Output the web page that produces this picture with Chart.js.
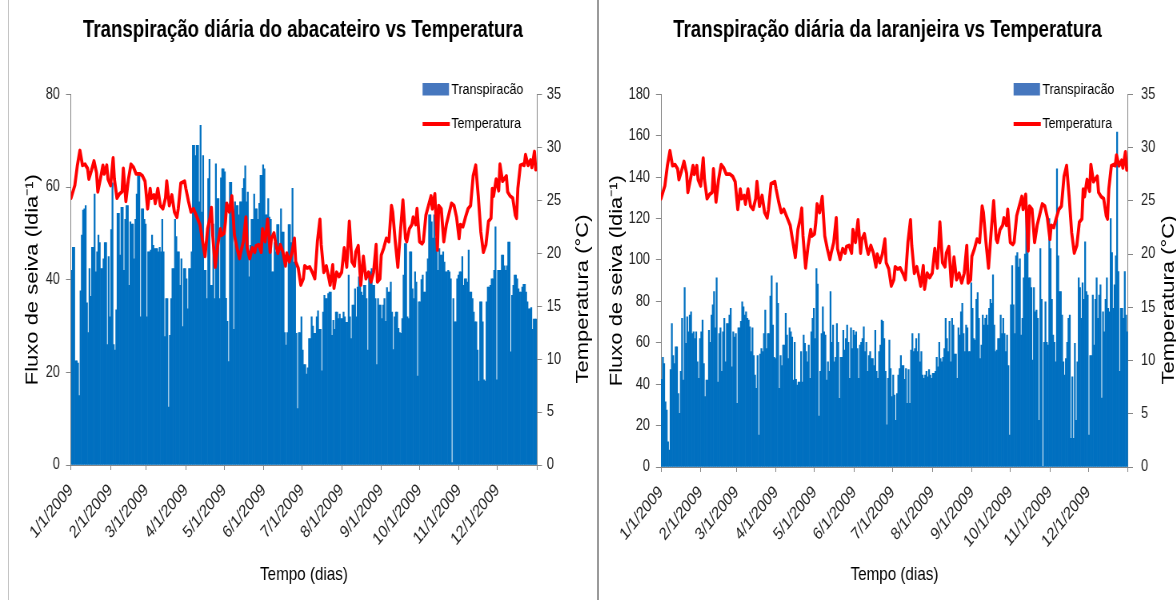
<!DOCTYPE html>
<html lang="pt">
<head>
<meta charset="utf-8">
<title>Transpiração diária vs Temperatura</title>
<script src="https://cdn.jsdelivr.net/npm/chart.js@4.4.1/dist/chart.umd.min.js"></script>
<style>
  html, body { margin:0; padding:0; background:#fff; width:1176px; height:600px; overflow:hidden; position:relative; }
  .wrap { position:absolute; top:0; width:748px; height:600px; transform:scaleX(0.8); transform-origin:0 0; }
  .wrap canvas { display:block; }
  .rule { position:absolute; top:0; height:600px; z-index:5; }
</style>
</head>
<body>
<div class="wrap" style="left:0"><canvas id="chartA" width="748" height="600" style="width:748px;height:600px"></canvas></div>
<div class="wrap" style="left:601px"><canvas id="chartB" width="748" height="600" style="width:748px;height:600px"></canvas></div>
<div class="rule" style="left:8px;width:1px;background:#c4c4c4"></div>
<div class="rule" style="left:597px;width:2px;background:#9a9a9a"></div>
<script>
// ---------- data ----------
const monthLabels = ['1/1/2009','2/1/2009','3/1/2009','4/1/2009','5/1/2009','6/1/2009',
                     '7/1/2009','8/1/2009','9/1/2009','10/1/2009','11/1/2009','12/1/2009'];
const yearEndLabel = '1/1/2010';

// daily sap flow, avocado tree (l/day), 1 Jan .. 31 Dec 2009
const abacateiroFluxo = [
42,47,47,22.5,22.5,22,15,37.6,49.6,55,
55.3,56,35,28.6,42.4,36.4,47,47,58.5,41.7,
46,49.6,48,42.4,42.4,44.5,48,48,26,45,
32,50.8,60.9,26,24.8,33.5,54.3,54.3,45.3,55.6,
55.6,42,53,56,56,38.8,52.5,52,52,44.5,
53,58.5,62.9,62.9,32,55.3,55.3,53,52,32,
46,46,46.4,49.6,47.4,46.7,46.7,46.7,46,47,
46,53,46,27.7,35.9,35.9,12.5,28,35.9,42.4,
42.4,53,49.3,46,46,38.8,44.5,29.9,42.4,42.4,
40.2,33.7,42.4,42.4,46,69,69,66.8,69,69,
56.8,73.3,54.6,66.8,42,42,35.9,61.8,66,38.8,
38.8,52,35.9,65,57.5,57.5,35.9,62,63.9,63.9,
63.3,36,31,22.3,61,61,55,29.3,56.8,56,
56,54,56.8,56.8,59.7,61.8,64.6,56.8,58.9,40.6,
47.4,53,53,58.5,55.3,55.3,53,56.5,62.5,62.5,
64.8,63.9,54,54,57.5,53.5,53,41.7,41.7,48,
46,51.9,51.9,46,55.3,50.3,50.3,28.6,25.9,28.6,
51.9,51.9,48,59.7,43.8,43.8,28.4,12.2,28.6,28.6,
32,24.8,21.7,21.7,19.6,21,27.3,27.3,32,30,
28.4,28.4,32,33.3,29.3,29.3,20.3,33,36.6,35.9,
35.9,37,37.3,37.3,28,31.2,29.3,33,33,31.6,
32.6,31.6,31.6,33,32,30.8,30.8,41,32,27.3,
34.5,34.5,38,32,38.4,40.6,40.6,37.3,36.6,38.8,
38.8,35.9,24.8,41.7,41.7,42.4,38.8,38.8,35.9,21.7,
35.9,34.5,34.5,31.6,34.5,35.9,31,38.3,37.3,37.3,
39.5,33,24.9,32,33,33,29.5,28.6,28.4,31.6,
41,47.8,47.8,32,31.6,46,46,38,35.9,41.7,
39.5,19.2,35.2,35.2,40,41,37.3,37.3,41.7,44.5,
54,54,52.5,49,54,49,49,42,46.7,45.3,
45.3,46,43.8,41.7,41.7,42,41.7,40.2,0.5,35.9,
30.9,30.9,40.2,41,41.7,41.7,45,38.8,40.2,40.2,
39.5,46.4,37.3,37.3,35.9,33,30.9,30.9,24.8,18.1,
35.2,35.2,30.9,18.4,18.1,35.2,38.4,38.4,38.8,40.2,
40.2,42,51.4,18.4,42,42,42,45.3,45.3,43,
42,43,48.1,48.1,24.4,36.6,38.8,41,41,40.2,
38,37.3,37.3,38.4,39,39,37.3,35.2,33.7,33.7,
34,29.3,31.5,31.5,31.5];

// daily sap flow, orange tree (l/day)
const laranjeiraFluxo = [
42.3,53,50,31.5,27.5,12.2,8.2,47,69.3,53.8,
50,58,58,35.5,25.9,46.2,71.8,42,86.7,59.7,
72.5,65.3,73.4,75,64.5,65.3,62,65.3,50.8,42.8,
62,65.3,71,50,34,42,42,66,60.2,73.4,
78.3,84.7,67.2,91.4,41,64.5,67.2,46.2,65.3,71.8,
50.8,69.3,69.3,73.4,76.6,48.4,65.3,62.8,64.5,30.7,
67.2,67.2,70.4,79.8,77.4,73.4,75,71.8,71,67.7,
55.7,67.2,53.8,44.4,38,53.8,15.4,54.6,57.2,55.7,
64.5,75.8,57.2,64.5,64.5,82.6,92.3,68.5,53,52.4,
89,79,38,53.8,49,58.9,58.9,74.2,63.7,52.4,
67.2,65.3,62.8,42,60.2,42.3,39.6,41,41,55.7,
41,63.7,59.7,55.7,50.8,58.9,42.8,65.3,71.8,76.6,
62,95.9,88.3,24.6,46.2,64.5,77.4,65.3,63.7,42,
50.8,46.2,84.7,60.2,68.5,50.8,53,69.3,60.2,33.2,
53,53,66,56.5,62,68.5,60.2,42.8,67.2,57.2,
66,63.7,65.3,57.2,42.8,58.9,60.2,62,67.7,55.7,
60.2,46.2,53.8,55.7,52.4,52.4,49,66,46.2,42.8,
55.7,58.9,71,70.4,62,46.2,20.4,42.8,61.3,47.6,
34,44.4,34.7,22.5,35.5,44.4,47.6,53.8,49,49,
42.3,47.6,30.7,47,30.7,56.5,64.5,55.7,57.2,62,
55.7,64.5,50.8,55.7,44.4,42.8,44.4,46.2,43.6,47,
44.4,42.8,45.2,45.2,46.2,53,48.4,60.2,52.4,50.8,
53,57.2,71.8,62,55.7,70.4,50.8,71.8,68.5,54.6,
54.6,42.8,67.2,63.7,75,79,64.5,55.7,68.5,67.2,
55.7,55.7,89,76.6,62,61.3,81,84.2,71.8,52.4,
58.9,73.4,68.5,71.8,73.4,68.5,76.6,81,79,92.8,
68.5,55.7,56.5,62,62,73.4,64.5,71.8,64.5,55.7,
63.7,49,15.4,78.3,97.3,78.3,64.5,102,103.6,96.6,
100.6,63.7,71.8,91.4,102.8,131,103.6,91.4,91.4,86.7,
51.6,86.7,75,75.8,71.8,22.5,105.5,81,0.3,60.2,
79.8,60.2,58.9,120,105.5,81,63.7,60.2,50.8,144,
102,84.7,84.7,73.4,50.8,44.4,52.4,60.2,71.8,73.4,
13.8,43.6,13.8,59.7,22.5,50.8,91.4,86.7,71.8,89,
81,108.8,84.7,83.1,15.4,53.8,53.8,83.1,58.9,81,
91.4,71.8,83.1,88,33.3,75,65.3,81,91.4,76.6,
75,120,103.6,76.6,88,102,161.8,94.4,46.2,76.6,
76.6,71.8,94.4,73.4,65.3];

// temperature (°C): day of year -> value, as traced on the picture
const tempDays = [
0,3,5,7,8,9,11,13,14,16,18,20,21,23,25,26,28,29,31,33,34,36,38,40,41,43,45,47,49,51,
54,56,58,60,62,63,65,66,68,70,72,74,75,77,79,81,83,84,86,89,90,92,94,96,98,101,103,105,107,109,
110,111,113,115,117,118,120,
121,122,124,126,128,130,132,133,135,137,138,140,142,144,145,147,149,150,152,154,
156,157,159,161,162,164,166,168,169,171,173,175,176,178,180,182,183,185,187,189,
191,193,195,196,198,200,202,203,205,206,208,210,212,214,216,218,220,222,223,225,
227,229,231,233,235,237,239,240,
242,243,245,247,249,251,252,254,256,258,260,262,263,265,267,268,270,271,273,275,
276,278,280,282,283,285,287,288,290,292,294,296,298,300,302,304,305,307,309,311,
313,315,317,319,321,323,325,327,329,330,331,333,335,336,338,341,342,344,346,348,
349,350,352,354,355,356,358,360,361,363,364,365];
const tempValues = [
25.2,26.4,28.3,29.7,29.0,28.3,28.4,28.0,27.0,27.8,28.7,27.6,25.8,27.0,28.3,27.5,28.3,27.0,26.4,29.0,
27.0,25.2,25.6,25.8,28.0,24.9,27.0,28.4,28.1,27.5,27.5,27.3,26.8,24.2,26.1,25.2,25.5,24.7,26.1,24.5,
24.2,25.2,26.8,24.5,25.5,23.9,23.4,24.2,26.6,26.8,26.1,24.9,23.9,24.2,23.6,22.7,21.2,19.7,22.3,23.4,
24.3,21.7,18.7,20.8,22.3,21.7,21.9,
23.0,24.7,23.9,25.4,21.7,20.5,19.5,20.1,21.1,23.4,20.5,19.5,20.5,20.1,20.7,20.8,20.1,22.3,21.1,23.2,
20.1,21.4,21.9,20.5,20.0,20.8,20.1,18.8,20.0,19.2,20.0,21.4,19.2,18.6,17.0,17.6,18.8,18.6,18.7,18.2,
17.6,21.1,23.2,20.8,18.2,18.8,17.6,17.0,18.9,16.7,18.2,17.8,18.2,20.5,18.7,23.0,19.2,18.8,20.1,20.7,
17.0,19.7,17.6,18.2,17.3,18.2,20.8,17.3,
17.6,19.8,20.5,21.4,21.1,24.5,23.9,21.1,18.7,22.0,25.0,21.4,21.1,22.3,22.7,23.4,22.7,24.2,21.1,20.9,
21.1,23.6,24.5,25.4,24.2,25.6,20.3,24.5,24.2,21.1,22.7,23.7,24.7,24.5,23.4,21.4,22.7,22.5,23.4,24.2,
24.5,27.3,28.3,25.4,22.0,20.1,20.8,23.0,23.3,26.1,25.4,27.0,25.9,28.4,26.8,27.3,25.8,25.4,25.2,23.6,
23.3,26.1,28.3,28.4,28.3,29.3,28.3,28.8,28.1,29.6,27.9,28.0];

// ---------- helpers ----------
const FONT = "'Liberation Sans', Arial, Helvetica, sans-serif";
const dayOfYear = (lbl) => { const [m, d, y] = lbl.split('/').map(Number);
  return Math.round((Date.UTC(y, m - 1, d) - Date.UTC(2009, 0, 1)) / 86400000); };
const monthStarts = monthLabels.map(dayOfYear).concat([dayOfYear(yearEndLabel)]);
const yearDays = dayOfYear(yearEndLabel);

const overlayPlugin = {
  id: 'overlay',
  afterDraw(chart, args, o) {
    const ctx = chart.ctx, ca = chart.chartArea;
    const bars = chart.data.datasets[0], line = chart.data.datasets[1];
    const lx = ca.right - o.legendInset;
    ctx.save();
    ctx.fillStyle = o.swatch;
    ctx.fillRect(lx, 83, 33, 12.5);
    ctx.strokeStyle = line.borderColor; ctx.lineWidth = 3.8;
    ctx.beginPath(); ctx.moveTo(lx, 124); ctx.lineTo(lx + 34, 124); ctx.stroke();
    ctx.fillStyle = '#000'; ctx.font = '15.5px ' + FONT;
    ctx.textAlign = 'left'; ctx.textBaseline = 'middle';
    ctx.fillText(bars.label, lx + 36, 89.5);
    ctx.fillText(line.label, lx + 36, 124);
    ctx.translate(o.titleX, o.titleY); ctx.rotate(-Math.PI / 2);
    ctx.font = '22px ' + FONT; ctx.textAlign = 'center';
    ctx.fillText(o.titleText, 0, 0);
    ctx.restore();
  }
};

function makeChart(id, cfg) {
  const barData = cfg.flux.map((v, i) => ({ x: i + 0.5, y: v }));
  const lineData = tempDays.map((d, i) => ({ x: d, y: tempValues[i] }));
  const axisGray = '#868686';
  return new Chart(document.getElementById(id), {
    type: 'bar',
    data: { datasets: [
      { type: 'bar', label: 'Transpiracão', data: barData, backgroundColor: '#0070C0',
        borderWidth: 0, barPercentage: 1, categoryPercentage: 1, yAxisID: 'y', order: 1 },
      { type: 'line', label: 'Temperatura', data: lineData, borderColor: '#FF0000',
        borderWidth: 3.8, pointRadius: 0, tension: 0, yAxisID: 'y2', order: 0,
        borderJoinStyle: 'round', borderCapStyle: 'round' }
    ]},
    options: {
      responsive: false, animation: false, devicePixelRatio: 1,
      layout: { padding: { left: cfg.padL, right: cfg.padR, top: 0, bottom: 0 } },
      plugins: {
        legend: { display: false },
        tooltip: { enabled: false },
        title: { display: true, text: cfg.title, color: '#000',
                 font: { family: FONT, size: 23.3, weight: 'bold', lineHeight: 1.2 },
                 padding: { top: 16.2, bottom: 50.2 } },
        overlay: { legendInset: 143, swatch: '#4677BE', titleX: cfg.rtX, titleY: cfg.rtY,
                   titleText: 'Temperatura (°C)' }
      },
      scales: {
        x: { type: 'linear', min: 0, max: yearDays, offset: false,
             afterBuildTicks: (s) => { s.ticks = monthStarts.map(v => ({ value: v })); },
             afterFit: (s) => { s.height = cfg.xH; },
             grid: { display: true, drawOnChartArea: false, drawTicks: true, tickLength: 5,
                     color: axisGray, offset: false },
             border: { display: true, color: axisGray, width: 1 },
             ticks: { autoSkip: false, minRotation: 45, maxRotation: 45, padding: 10,
                      color: '#222', font: { family: FONT, size: 17.5 },
                      callback: (v) => { const i = monthStarts.indexOf(v);
                        return i >= 0 && i < monthLabels.length ? monthLabels[i] : ''; } },
             title: { display: true, text: 'Tempo (dias)', color: '#000',
                      font: { family: FONT, size: 19, lineHeight: 1.2 },
                      padding: { top: 0, bottom: 13.6 } } },
        y: { type: 'linear', position: 'left', min: 0, max: cfg.yMax,
             afterFit: (s) => { s.width = cfg.yW; },
             ticks: { stepSize: cfg.yStep, padding: 7.5, color: '#222', font: { family: FONT, size: 16 } },
             grid: { drawOnChartArea: false, drawTicks: true, tickLength: 6.25, color: axisGray },
             border: { display: true, color: axisGray },
             title: { display: true, text: 'Fluxo de seiva (ldia⁻¹)', color: '#000',
                      font: { family: FONT, size: 22, lineHeight: 1 },
                      padding: { top: cfg.yTitlePad, bottom: 0 } } },
        y2: { type: 'linear', position: 'right', min: 0, max: 35,
              afterFit: (s) => { s.width = cfg.y2W; },
              ticks: { stepSize: 5, padding: cfg.y2Pad, color: '#222', font: { family: FONT, size: 16 } },
              grid: { drawOnChartArea: false, drawTicks: true, tickLength: 6.25, color: axisGray },
              border: { display: true, color: axisGray } }
      }
    },
    plugins: [overlayPlugin]
  });
}

makeChart('chartA', {
  title: 'Transpiração diária do abacateiro vs Temperatura',
  flux: abacateiroFluxo, yMax: 80, yStep: 20,
  padL: 9.5, padR: 0, yW: 79.25, y2W: 76.75, xH: 135, yTitlePad: 20.75, y2Pad: 6,
  rtX: 728.75, rtY: 299
});
makeChart('chartB', {
  title: 'Transpiração diária da laranjeira vs Temperatura',
  flux: laranjeiraFluxo, yMax: 180, yStep: 20,
  padL: 0, padR: 31.75, yW: 75, y2W: 57.5, xH: 133, yTitlePad: 9, y2Pad: 10,
  rtX: 710, rtY: 300
});
</script>
</body>
</html>
